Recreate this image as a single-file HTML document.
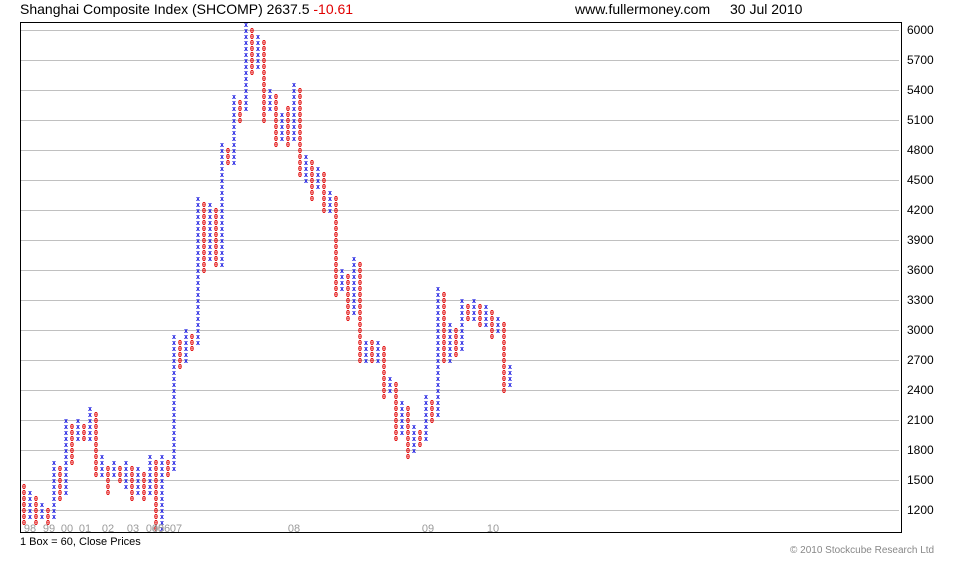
<!DOCTYPE html>
<html><head><meta charset="utf-8"><style>
body{margin:0;background:#fff;width:980px;height:560px;overflow:hidden;font-family:"Liberation Sans",sans-serif}
</style></head><body>
<svg id="s" width="980" height="560" xmlns="http://www.w3.org/2000/svg" font-family="Liberation Sans, sans-serif">
<text x="20" y="14" font-size="14" fill="#000">Shanghai Composite Index (SHCOMP) 2637.5 <tspan fill="#e00000">-10.61</tspan></text>
<text x="575" y="14" font-size="14" fill="#000">www.fullermoney.com</text>
<text x="730" y="14" font-size="14" fill="#000">30 Jul 2010</text>
<g id="grid"></g>
<rect x="20.5" y="22.5" width="881" height="510" fill="none" stroke="#000" stroke-width="1"/>
<g id="pf" font-family="DejaVu Sans Mono, monospace" font-size="7" font-weight="bold" text-anchor="middle"></g>
<g font-size="11" fill="#999" text-anchor="middle">
<text x="30" y="532">98</text><text x="49" y="532">99</text><text x="67" y="532">00</text><text x="85" y="532">01</text><text x="108" y="532">02</text><text x="133" y="532">03</text><text x="152" y="532">04</text><text x="158" y="532">05</text><text x="164" y="532">06</text><text x="176" y="532">07</text><text x="294" y="532">08</text><text x="428" y="532">09</text><text x="493" y="532">10</text>
</g>
<text x="20" y="545" font-size="11" fill="#000">1 Box = 60, Close Prices</text>
<text x="790" y="553" font-size="10" fill="#888">© 2010 Stockcube Research Ltd</text>
</svg>
<script>
var ns="http://www.w3.org/2000/svg",g=document.getElementById('grid'),pf=document.getElementById('pf');
for(var v=6000;v>=1200;v-=300){var y=30+(6000-v)/10;
var l=document.createElementNS(ns,'line');l.setAttribute('x1',21);l.setAttribute('x2',899);l.setAttribute('y1',y+.5);l.setAttribute('y2',y+.5);l.setAttribute('stroke','#c0c0c0');g.appendChild(l);
var t=document.createElementNS(ns,'text');t.setAttribute('x',907);t.setAttribute('y',y+4);t.setAttribute('font-size','12');t.textContent=v;g.appendChild(t);}
var c=[[24,'o',484,523],[30,'x',490,517],[36,'o',497,520],[42,'x',503,517],[48,'o',507,520],[54,'x',460,517],[60,'o',466,496],[66,'x',420,490],[72,'o',427,460],[78,'x',420,440],[84,'o',427,440],[90,'x',406,440],[96,'o',412,476],[102,'x',454,476],[108,'o',466,493],[114,'x',460,476],[120,'o',466,481],[126,'x',460,483],[132,'o',466,500],[138,'x',466,493],[144,'o',473,496],[150,'x',454,493],[156,'o',460,527],[162,'x',454,527],[168,'o',460,476],[174,'x',333,470],[180,'o',341,367],[186,'x',330,362],[192,'o',334,350],[198,'x',197,343],[204,'o',203,267],[210,'x',203,255],[216,'o',210,265],[222,'x',143,262],[228,'o',150,163],[234,'x',95,160],[240,'o',100,117],[246,'x',23,110],[252,'o',30,73],[258,'x',35,68],[264,'o',40,117],[270,'x',90,110],[276,'o',95,145],[282,'x',113,140],[288,'o',108,145],[294,'x',83,140],[300,'o',90,175],[306,'x',155,180],[312,'o',160,196],[318,'x',168,185],[324,'o',173,212],[330,'x',190,207],[336,'o',197,295],[342,'x',268,290],[348,'o',275,320],[354,'x',257,313],[360,'o',263,362],[366,'x',340,357],[372,'o',340,362],[378,'x',340,357],[384,'o',347,397],[390,'x',376,392],[396,'o',383,438],[402,'x',400,432],[408,'o',407,457],[414,'x',425,450],[420,'o',432,442],[426,'x',394,440],[432,'o',400,420],[438,'x',286,416],[444,'o',293,360],[450,'x',322,357],[456,'o',332,355],[462,'x',298,350],[468,'o',305,318],[474,'x',298,315],[480,'o',305,325],[486,'x',303,322],[492,'o',310,338],[498,'x',316,330],[504,'o',322,390],[510,'x',364,386]];
c.forEach(function(k){var a=Math.round((k[2]-30)/6),b=Math.round((k[3]-30)/6);
for(var i=a;i<=b;i++){var t=document.createElementNS(ns,'text');t.setAttribute('x',k[0]);t.setAttribute('y',30+6*i+3);
t.setAttribute('fill',k[1]=='x'?'#1010e0':'#e00000');t.textContent=k[1]=='x'?'x':'0';pf.appendChild(t);}});
</script>
</body></html>
